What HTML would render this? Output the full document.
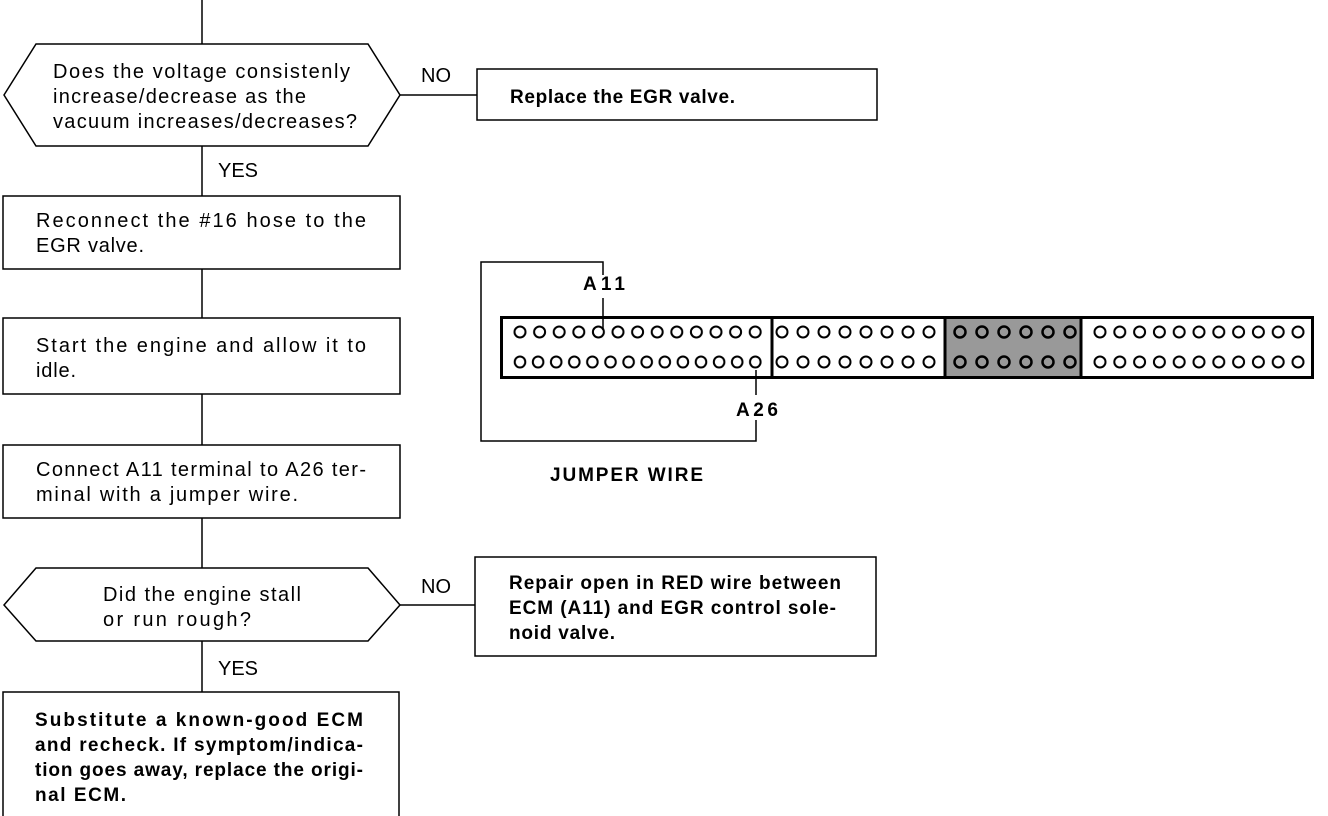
<!DOCTYPE html>
<html><head><meta charset="utf-8"><style>
html,body{margin:0;padding:0;background:#fff;}
svg{display:block;}
text{font-family:"Liberation Sans",sans-serif;font-size:20px;fill:#000;}
.b{font-weight:bold;font-size:19px;}
</style></head><body>
<svg width="1328" height="816" viewBox="0 0 1328 816" xmlns="http://www.w3.org/2000/svg">
<defs>
<pattern id="p1" patternUnits="userSpaceOnUse" x="510.2" y="324" width="19.6" height="16"><ellipse cx="9.8" cy="8" rx="5.5" ry="5.5" fill="none" stroke="#000" stroke-width="2"/></pattern>
<pattern id="p2" patternUnits="userSpaceOnUse" x="510.95" y="354" width="18.1" height="16"><ellipse cx="9.05" cy="8" rx="5.3" ry="5.5" fill="none" stroke="#000" stroke-width="2"/></pattern>
<pattern id="p3" patternUnits="userSpaceOnUse" x="771.5" y="324" width="21" height="46"><ellipse cx="10.5" cy="8" rx="5.5" ry="5.5" fill="none" stroke="#000" stroke-width="2"/><ellipse cx="10.5" cy="38" rx="5.5" ry="5.5" fill="none" stroke="#000" stroke-width="2"/></pattern>
<pattern id="p4" patternUnits="userSpaceOnUse" x="949" y="324" width="22" height="46"><ellipse cx="11" cy="8" rx="5.5" ry="5.5" fill="none" stroke="#000" stroke-width="2.5"/><ellipse cx="11" cy="38" rx="5.5" ry="5.5" fill="none" stroke="#000" stroke-width="2.5"/></pattern>
<pattern id="p5" patternUnits="userSpaceOnUse" x="1090.1" y="324" width="19.8" height="46"><ellipse cx="9.9" cy="8" rx="5.5" ry="5.5" fill="none" stroke="#000" stroke-width="2"/><ellipse cx="9.9" cy="38" rx="5.5" ry="5.5" fill="none" stroke="#000" stroke-width="2"/></pattern>
</defs>
<g stroke="#000" stroke-width="1.5" fill="none">
<line x1="202" y1="0" x2="202" y2="44"/>
<polygon points="4,95 36,44 368,44 400,95 368,146 36,146"/>
<line x1="400" y1="95" x2="477" y2="95"/>
<rect x="477" y="69" width="400" height="51"/>
<line x1="202" y1="146" x2="202" y2="196"/>
<rect x="3" y="196" width="397" height="73"/>
<line x1="202" y1="269" x2="202" y2="318"/>
<rect x="3" y="318" width="397" height="76"/>
<line x1="202" y1="394" x2="202" y2="445"/>
<rect x="3" y="445" width="397" height="73"/>
<line x1="202" y1="518" x2="202" y2="568"/>
<polygon points="4,605 36,568 368,568 400,605 368,641 36,641"/>
<line x1="400" y1="605" x2="475" y2="605"/>
<rect x="475" y="557" width="401" height="99"/>
<line x1="202" y1="641" x2="202" y2="692"/>
<rect x="3" y="692" width="396" height="140"/>
<polyline points="603,275 603,262 481,262 481,441 756,441 756,420"/>
<line x1="603" y1="298" x2="603" y2="330"/>
<line x1="756" y1="370" x2="756" y2="395"/>
</g>
<rect x="946" y="318" width="134" height="58" fill="#999"/>
<rect x="501.5" y="317.5" width="811" height="60" fill="none" stroke="#000" stroke-width="3"/>
<line x1="772" y1="317" x2="772" y2="378" stroke="#000" stroke-width="3"/>
<line x1="945" y1="317" x2="945" y2="378" stroke="#000" stroke-width="3"/>
<line x1="1081" y1="317" x2="1081" y2="378" stroke="#000" stroke-width="3"/>
<rect x="510.2" y="324" width="254.8" height="16" fill="url(#p1)"/>
<rect x="510.95" y="354" width="253.4" height="16" fill="url(#p2)"/>
<rect x="771.5" y="324" width="168" height="46" fill="url(#p3)"/>
<rect x="949" y="324" width="132" height="46" fill="url(#p4)"/>
<rect x="1090.1" y="324" width="217.8" height="46" fill="url(#p5)"/>

<text x="53" y="78" textLength="297">Does the voltage consistenly</text>
<text x="53" y="103" textLength="253">increase/decrease as the</text>
<text x="53" y="128" textLength="304">vacuum increases/decreases?</text>
<text x="421" y="82">NO</text>
<text class="b" x="510" y="103" textLength="225">Replace the EGR valve.</text>
<text x="218" y="177">YES</text>
<text x="36" y="227" textLength="330">Reconnect the #16 hose to the</text>
<text x="36" y="252" textLength="108">EGR valve.</text>
<text x="36" y="352" textLength="330">Start the engine and allow it to</text>
<text x="36" y="377" textLength="40">idle.</text>
<text x="36" y="476" textLength="330">Connect A11 terminal to A26 ter-</text>
<text x="36" y="501" textLength="262">minal with a jumper wire.</text>
<text x="103" y="601" textLength="198">Did the engine stall</text>
<text x="103" y="626" textLength="148">or run rough?</text>
<text x="421" y="593">NO</text>
<text class="b" x="509" y="589" textLength="332">Repair open in RED wire between</text>
<text class="b" x="509" y="614" textLength="327">ECM (A11) and EGR control sole-</text>
<text class="b" x="509" y="639" textLength="106">noid valve.</text>
<text x="218" y="675">YES</text>
<text class="b" x="35" y="726" textLength="328">Substitute a known-good ECM</text>
<text class="b" x="35" y="751" textLength="328">and recheck. If symptom/indica-</text>
<text class="b" x="35" y="776" textLength="328">tion goes away, replace the origi-</text>
<text class="b" x="35" y="801" textLength="91">nal ECM.</text>
<text class="b" x="583" y="290" textLength="42">A11</text>
<text class="b" x="736" y="416" textLength="42">A26</text>
<text class="b" x="550" y="481" textLength="153">JUMPER WIRE</text>
</svg>
</body></html>
